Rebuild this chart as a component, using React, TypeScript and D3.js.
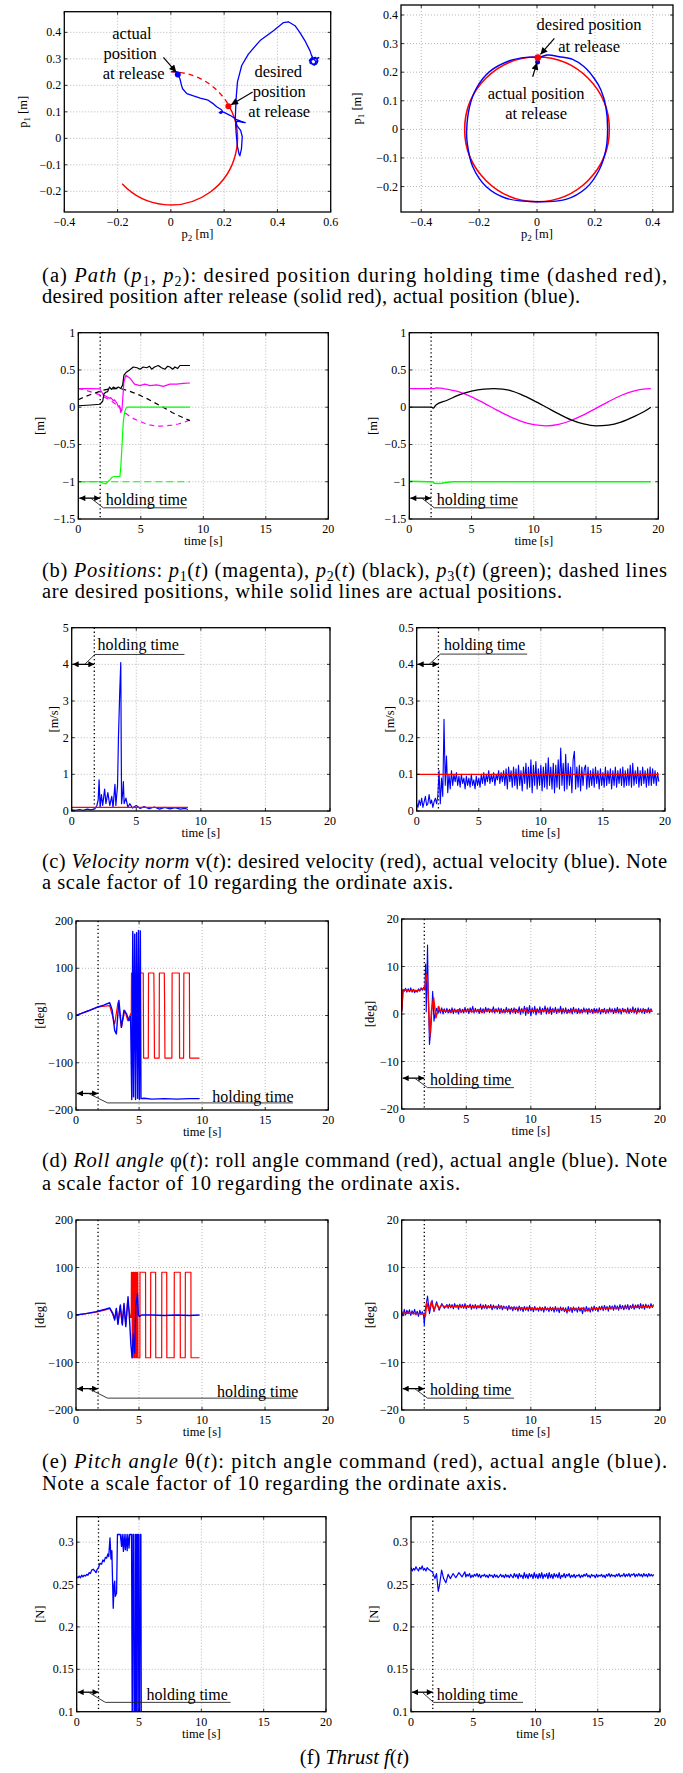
import React from "react";
import * as d3 from "d3";

const FONT = '"Liberation Serif", "Times New Roman", Times, serif';
const BLUE = "#0000ff";
const RED = "#ff0000";
const MAGENTA = "#ff00ff";
const GREEN = "#00ff00";
const BLACK = "#000000";

type Pt = [number, number];
const series = (t0: number, dt: number, vals: number[]): Pt[] => vals.map((v, i) => [t0 + i * dt, v]);

// ---------------- DATA ----------------
const HOLD_T = 1.75;

// (a) path
const circleR = 0.25;
const arcHoldStartDeg = 90;
const arcReleaseDeg = 29;
const arcEndDeg = -137;
const aLXTicks = [-0.4, -0.2, 0, 0.2, 0.4, 0.6];
const aLYTicks = [-0.2, -0.1, 0, 0.1, 0.2, 0.3, 0.4];
const aRXTicks = [-0.4, -0.2, 0, 0.2, 0.4];
const aRYTicks = [-0.2, -0.1, 0, 0.1, 0.2, 0.3, 0.4];
const aLXLim = [-0.4, 0.6];
const aLYLim = [-0.278, 0.478];
const aRXLim = [-0.47, 0.47];
const aRYLim = [-0.289, 0.435];

const aLBlue: Pt[] = [
  [0.004, 0.252], [0.018, 0.252], [0.03, 0.248], [0.026, 0.241], [0.034, 0.225], [0.04, 0.2], [0.044, 0.187],
  [0.06, 0.169], [0.085, 0.16], [0.11, 0.152], [0.14, 0.144], [0.16, 0.13], [0.172, 0.119], [0.19, 0.108],
  [0.195, 0.1], [0.188, 0.094], [0.182, 0.097], [0.188, 0.101], [0.2, 0.098], [0.222, 0.087], [0.247, 0.071],
  [0.265, 0.064], [0.279, 0.059], [0.27, 0.06], [0.25, 0.065], [0.243, 0.055], [0.245, 0.02], [0.25, -0.031],
  [0.256, -0.06], [0.259, -0.066], [0.265, -0.04], [0.268, 0.006], [0.262, 0.03], [0.25, 0.045], [0.244, 0.06],
  [0.242, 0.079], [0.245, 0.15], [0.25, 0.213], [0.266, 0.275], [0.291, 0.318], [0.335, 0.369], [0.385, 0.406],
  [0.423, 0.437], [0.441, 0.44], [0.466, 0.425], [0.484, 0.4], [0.503, 0.369], [0.522, 0.331], [0.528, 0.313],
  [0.535, 0.3], [0.545, 0.29], [0.54, 0.28], [0.525, 0.282], [0.52, 0.295], [0.53, 0.305], [0.548, 0.3],
  [0.55, 0.285], [0.538, 0.276], [0.522, 0.285], [0.527, 0.3], [0.542, 0.306], [0.552, 0.292], [0.545, 0.279],
  [0.53, 0.281], [0.525, 0.293], [0.535, 0.3], [0.555, 0.305], [0.548, 0.297],
];
const aLReleaseDesired: Pt = [0.216, 0.121];
const aLReleaseActual: Pt = [0.026, 0.241];

const aRBlue: Pt[] = [
  [0.002, 0.248], [0.037, 0.26], [0.077, 0.254], [0.123, 0.245], [0.163, 0.219], [0.198, 0.178], [0.221, 0.138],
  [0.238, 0.079], [0.244, 0.0], [0.238, -0.072], [0.215, -0.142], [0.169, -0.206], [0.1, -0.245], [0.0, -0.253],
  [-0.107, -0.241], [-0.176, -0.2], [-0.222, -0.131], [-0.241, -0.049], [-0.243, 0.0], [-0.233, 0.079],
  [-0.21, 0.143], [-0.164, 0.202], [-0.095, 0.24], [-0.038, 0.252], [0.002, 0.252],
];
const aRReleaseDesired: Pt = [0.003, 0.251];
const aRReleaseActual: Pt = [0.002, 0.236];

// time axes
const timeTicks = [0, 5, 10, 15, 20];
const bYTicks = [-1.5, -1, -0.5, 0, 0.5, 1];
const cLYTicks = [0, 1, 2, 3, 4, 5];
const cRYTicks = [0, 0.1, 0.2, 0.3, 0.4, 0.5];
const degLTicks = [-200, -100, 0, 100, 200];
const degRTicks = [-20, -10, 0, 10, 20];
const fYTicks = [0.1, 0.15, 0.2, 0.25, 0.3];

// (b) positions, left
const bL_p1Act: Pt[] = [
  [0, 0.25], [1.0, 0.25], [1.73, 0.245], [1.85, 0.21], [2.0, 0.165], [2.3, 0.14], [2.5, 0.12], [2.6, 0.13],
  [2.8, 0.09], [2.9, 0.1], [3.07, 0.06], [3.2, 0.01], [3.3, 0.02], [3.4, -0.07], [3.5, -0.02], [3.65, 0.34],
  [3.81, 0.43], [4.13, 0.39], [4.5, 0.31], [4.93, 0.29], [5.33, 0.31], [5.73, 0.29], [6.27, 0.3], [6.8, 0.28],
  [7.33, 0.31], [7.87, 0.31], [8.4, 0.32], [8.93, 0.325],
];
const bL_p1Des: Pt[] = [
  [0, 0.25], [0.5, 0.235], [0.93, 0.21], [1.3, 0.19], [1.73, 0.165], [2.1, 0.135], [2.53, 0.098], [3.0, 0.04],
  [3.33, -0.013], [3.7, -0.07], [4.13, -0.125], [4.5, -0.16], [4.93, -0.19], [5.3, -0.215], [5.73, -0.237],
  [6.13, -0.25], [6.53, -0.254], [7.0, -0.25], [7.5, -0.24], [8.0, -0.225], [8.5, -0.2], [8.93, -0.17],
];
const bL_p2Act: Pt[] = [
  [0, 0.02], [1.0, 0.03], [1.73, 0.04], [1.95, 0.08], [2.05, 0.18], [2.2, 0.2], [2.35, 0.21], [2.5, 0.27],
  [2.65, 0.24], [2.8, 0.27], [3.0, 0.25], [3.2, 0.27], [3.4, 0.25], [3.55, 0.3], [3.65, 0.43], [3.85, 0.47],
  [4.1, 0.5], [4.4, 0.54], [4.7, 0.53], [4.93, 0.51], [5.2, 0.54], [5.47, 0.53], [5.7, 0.55], [5.87, 0.51],
  [6.1, 0.54], [6.4, 0.56], [6.65, 0.53], [6.93, 0.51], [7.15, 0.55], [7.33, 0.54], [7.55, 0.51], [7.73, 0.54],
  [7.95, 0.52], [8.13, 0.56], [8.53, 0.56], [8.93, 0.56],
];
const bL_p2Des: Pt[] = [
  [0, 0.1], [0.5, 0.14], [1.0, 0.17], [1.5, 0.2], [2.0, 0.23], [2.5, 0.245], [3.0, 0.25], [3.5, 0.245],
  [4.0, 0.22], [4.5, 0.19], [5.0, 0.155], [5.5, 0.115], [6.0, 0.07], [6.5, 0.025], [7.0, -0.02], [7.5, -0.07],
  [8.0, -0.11], [8.5, -0.15], [8.93, -0.18],
];
const bL_p3Act: Pt[] = [
  [0, -1.0], [1.73, -1.0], [2.0, -1.02], [2.2, -1.03], [2.35, -1.0], [2.53, -0.975], [2.7, -0.94], [2.85, -0.93],
  [3.33, -0.93], [3.4, -0.8], [3.47, -0.59], [3.6, -0.19], [3.7, -0.07], [3.81, -0.013], [3.9, 0.0], [8.93, 0.0],
];
const bL_p3Des: Pt[] = [[0, -1], [8.93, -1]];

// (b) positions, right
const bR_p1: Pt[] = [
  [0, 0.25], [1.0, 0.25], [2.0, 0.25], [2.14, 0.258], [2.5, 0.255], [3, 0.242], [4, 0.205], [5, 0.14], [6, 0.055],
  [7, -0.035], [8, -0.12], [9, -0.19], [10, -0.235], [11, -0.25], [12, -0.23], [13, -0.178], [14, -0.103],
  [15, -0.015], [16, 0.075], [17, 0.157], [18, 0.217], [19, 0.247], [19.4, 0.25],
];
const bR_p2: Pt[] = [
  [0, 0.0], [1.0, 0.0], [1.8, 0.0], [1.93, -0.012], [2.05, 0.01], [2.14, 0.03], [3, 0.09], [4, 0.165], [5, 0.215],
  [6, 0.243], [6.8, 0.25], [7.5, 0.243], [8, 0.228], [9, 0.168], [10, 0.088], [11, 0.0], [12, -0.09], [13, -0.17],
  [14, -0.225], [15, -0.25], [16, -0.24], [17, -0.2], [18, -0.13], [19, -0.045], [19.4, 0.0],
];
const bR_p3: Pt[] = [
  [0, -0.995], [1.5, -1.0], [1.9, -1.0], [2.0, -1.02], [2.3, -1.025], [2.6, -1.02], [2.9, -1.01], [3.5, -1.0],
  [19.4, -1.0],
];

// (c) velocity
const cL_vAct: Pt[] = [
  [0, 0.03], [0.3, 0.02], [0.6, 0.04], [0.9, 0.02], [1.2, 0.05], [1.5, 0.03], [1.8, 0.06], [1.95, 0.15],
  [2.05, 0.3], [2.12, 0.85], [2.2, 0.1], [2.3, 0.45], [2.4, 0.15], [2.55, 0.6], [2.65, 0.2], [2.8, 0.5],
  [2.95, 0.15], [3.1, 0.4], [3.2, 0.1], [3.35, 0.73], [3.42, 0.15], [3.55, 0.7], [3.62, 2.0], [3.72, 3.25],
  [3.8, 4.05], [3.86, 0.2], [3.95, 0.5], [4.0, 0.8], [4.06, 0.2], [4.2, 0.35], [4.35, 0.1], [4.5, 0.2],
  [4.7, 0.08], [5.0, 0.15], [5.3, 0.07], [5.6, 0.12], [6.0, 0.06], [6.4, 0.11], [6.8, 0.05], [7.2, 0.1],
  [7.6, 0.06], [8.0, 0.09], [8.4, 0.05], [8.8, 0.07], [9.0, 0.04],
];
const cL_vDes: Pt[] = [[0, 0.1], [9.0, 0.1]];
const cR_vActValues = [
  0.02, 0.01, 0.03, 0.015, 0.035, 0.01, 0.025, 0.04, 0.015, 0.02, 0.045, 0.02, 0.03, 0.01, 0.025, 0.035, 0.02, 0.04,
  0.11, 0.02, 0.09, 0.04, 0.25, 0.07, 0.15, 0.05,
  0.10, 0.06, 0.11, 0.07, 0.10, 0.08, 0.105, 0.07, 0.095, 0.065, 0.10, 0.075, 0.09, 0.06, 0.095, 0.07, 0.09, 0.065,
  0.10, 0.07, 0.085, 0.06, 0.095, 0.07, 0.09, 0.065, 0.10, 0.075, 0.105, 0.07, 0.10, 0.08, 0.11, 0.075, 0.10, 0.08,
  0.105, 0.07, 0.10, 0.085, 0.11, 0.075, 0.105, 0.08,
  0.11, 0.07, 0.115, 0.06, 0.12, 0.08, 0.11, 0.065, 0.12, 0.07,
  0.115, 0.06, 0.125, 0.07, 0.11, 0.055, 0.12, 0.075, 0.13, 0.06,
  0.12, 0.065, 0.14, 0.05, 0.125, 0.07, 0.135, 0.06, 0.115, 0.07,
  0.125, 0.055, 0.12, 0.065, 0.13, 0.06, 0.145, 0.07, 0.12, 0.06,
  0.13, 0.05, 0.125, 0.065, 0.14, 0.06, 0.172, 0.07, 0.13, 0.055,
  0.155, 0.06, 0.13, 0.07, 0.12, 0.05, 0.14, 0.163, 0.06, 0.12,
  0.065, 0.125, 0.055, 0.12, 0.07, 0.115, 0.125, 0.06, 0.12, 0.065,
  0.11, 0.07, 0.115, 0.065, 0.12, 0.075, 0.11, 0.06, 0.115, 0.07,
  0.105, 0.065, 0.12, 0.07, 0.11, 0.075, 0.115, 0.06, 0.11, 0.07,
  0.12, 0.065, 0.11, 0.075, 0.115, 0.07, 0.12, 0.065, 0.11, 0.07,
  0.115, 0.07, 0.125, 0.065, 0.13, 0.07, 0.11, 0.075, 0.12, 0.065,
  0.11, 0.07, 0.12, 0.075, 0.11, 0.065, 0.115, 0.07, 0.12, 0.07,
  0.115, 0.075, 0.11, 0.07, 0.105, 0.08,
];
const cR_vDes: Pt[] = [[0, 0.1], [19.5, 0.1]];

// (d) roll
const dL_cmd: Pt[] = [
  [0, 0], [1.73, 18], [2.67, 21], [2.8, 8], [3.07, -18], [3.33, 28], [3.6, -25], [3.87, 11], [4.1, -11], [4.35, 4],
  [4.38, 0], [4.4, 90], [5.33, 90], [5.36, -90], [5.73, -90], [5.75, 90], [6.17, 90], [6.19, 35], [6.22, -90],
  [6.59, -90], [6.61, 90], [7.0, 90], [7.02, 37], [7.05, -90], [7.6, -90], [7.62, 90], [8.19, 90], [8.21, -90],
  [8.53, -90], [8.55, 90], [8.99, 90], [9.01, -90], [9.79, -90],
];
const dL_act: Pt[] = [
  [0, 0], [0.5, 5], [1.0, 10], [1.73, 18], [2.2, 22], [2.67, 27], [2.87, 11], [3.07, -32], [3.2, -39], [3.4, 32],
  [3.6, -25], [3.8, 11], [4.0, 4], [4.2, -11], [4.33, -2], [4.42, -178], [4.5, 178], [4.56, -172], [4.65, 172],
  [4.72, -178], [4.8, 175], [4.88, -175], [4.95, 180], [5.02, -178], [5.1, 179], [5.15, -176], [5.4, -175],
  [6, -177], [7, -176], [8, -177], [9, -176], [9.8, -176],
];
const dR_actHead: Pt[] = [
  [0, 0.5], [0.05, 2], [0.1, 5.2], [0.2, 4.8], [0.3, 5.4], [0.4, 4.6], [0.5, 5.3], [0.6, 4.7], [0.7, 5.5],
  [0.8, 4.6], [0.9, 5.2], [1.0, 4.5], [1.1, 5.0], [1.2, 4.6], [1.3, 5.3], [1.4, 4.8], [1.5, 5.5], [1.6, 5.0],
  [1.7, 5.6], [1.8, 5.2], [1.85, 10.5], [1.9, 0.5], [2.0, 14.5], [2.05, 5.5], [2.15, -6.4], [2.25, -3.6],
  [2.4, 4.8], [2.5, -1.5],
];
const dR_actTail = [
  0.3, 1.2, 0.1, 1.0, 0.2, 1.3, 0.0, 1.1, 0.3, 1.2,
  0.2, 1.0, 0.4, 1.3, 0.1, 1.1, 0.3, 0.9, 0.0, 1.2,
  0.3, 1.0, 0.2, 1.4, 0.4, 1.1, 0.1, 1.3, 0.5, 1.6,
  0.2, 1.2, 0.4, 1.0, 0.1, 1.3, 0.3, 1.1, 0.2, 1.4,
  0.5, 1.2, 0.3, 1.0, 0.6, 1.5, 0.2, 1.1, 0.4, 1.3,
  0.1, 1.2, 0.3, 1.0, 0.2, 1.4, 0.4, 1.1, 0.0, 1.2,
  0.3, 1.3, 0.1, 1.0, 0.4, 1.5, -0.1, 1.2, 0.2, 1.6,
  -0.3, 1.4, 0.1, 1.8, -0.4, 1.3, 0.2, 1.6, -0.2, 1.1,
  0.3, 1.5, -0.1, 1.2, 0.4, 1.7, 0.0, 1.3, 0.2, 1.5,
  -0.1, 1.2, 0.3, 1.4, 0.1, 1.1, 0.4, 1.6, 0.0, 1.2,
  0.2, 1.3, 0.1, 1.0, 0.4, 1.2, 0.0, 1.4, 0.3, 1.1,
  0.1, 1.2, 0.3, 1.0, 0.2, 1.3, 0.4, 1.1, 0.0, 1.2,
  0.3, 1.0, 0.1, 1.2, 0.4, 1.1, 0.2, 1.3, 0.0, 1.0,
  0.3, 1.2, 0.1, 1.0, 0.2, 1.3, 0.4, 1.1, 0.1, 1.2,
  0.3, 1.4, 0.2, 1.1, 0.0, 1.2, 0.4, 1.0, 0.2, 1.3,
  0.1, 1.1, 0.3, 1.5, 0.2, 1.2, 0.0, 1.3, 0.4, 1.1,
  0.2, 1.2, 0.1, 1.0, 0.3, 1.3, 0.2, 1.1, 0.4,
];
const dR_cmdHead: Pt[] = [
  [0, 0.6], [0.1, 5.0], [0.3, 5.1], [0.6, 4.9], [0.9, 5.0], [1.2, 4.9], [1.5, 5.2], [1.8, 5.4], [1.9, 8.3],
  [1.97, 7.9], [2.05, 4.0], [2.18, -4.7], [2.3, 0.5], [2.47, 3.4], [2.65, -0.8], [2.85, 1.6], [3.0, 0.6],
];
const dR_cmdTail = [
  0.9, 0.5, 0.7, 0.3, 0.8, 0.6, 0.9,
  0.4, 0.8, 0.5, 1.0, 0.4, 0.7, 0.6, 0.9, 0.3, 0.8,
  0.5, 1.0, 0.4, 0.8, 0.6, 0.9, 0.3, 0.7, 0.5, 0.9,
  0.4, 1.0, 0.3, 0.8, 0.6, 1.1, 0.2, 0.9, 0.5, 1.0,
  0.3, 0.8, 0.6, 1.0, 0.2, 0.9, 0.5, 0.8, 0.4, 1.0,
  0.5, 0.7, 0.3, 0.9, 0.6, 0.8, 0.2, 0.7, 0.5, 0.9,
  0.4, 0.8, 0.3, 0.7, 0.6, 0.9, 0.4, 0.8, 0.5, 0.7,
  0.3, 0.9, 0.6, 1.0, 0.4, 0.8, 0.5, 0.9, 0.3, 0.7,
  0.6, 0.9, 0.4, 0.8, 0.6,
];

// (e) pitch
const eL_cmd: Pt[] = [
  [0, 0], [1.6, 6], [2.4, 11], [2.67, 14], [2.9, 2], [3.07, -9], [3.2, 12], [3.33, -17], [3.5, 18], [3.65, -18],
  [3.8, 20], [3.95, -20], [4.1, 30], [4.3, -5], [4.38, -5], [4.4, 90], [4.45, 90], [4.47, -90], [4.52, -90],
  [4.54, 90], [4.6, 90], [4.62, -90], [4.67, -90], [4.69, 90], [4.75, 90], [4.77, -90], [4.82, -90], [4.84, 90],
  [4.9, 90], [4.92, -90], [5.07, -90], [5.08, 90], [5.52, 90], [5.53, -90], [5.92, -90], [5.93, 90], [6.32, 90],
  [6.33, -90], [6.8, -90], [6.81, 90], [7.2, 90], [7.21, -90], [7.79, -90], [7.8, 90], [8.27, 90], [8.28, -90],
  [8.67, -90], [8.68, 90], [9.12, 90], [9.13, -90], [9.8, -90],
];
const eL_act: Pt[] = [
  [0, 0], [0.8, 3], [1.6, 7], [2.4, 12.6], [2.67, 15], [2.93, 3.5], [3.07, -10.5], [3.2, 14], [3.33, -19.6],
  [3.52, 21], [3.68, -21], [3.81, 24.5], [3.95, -24.5], [4.13, 38.5], [4.25, -10], [4.35, -60], [4.45, -90],
  [4.55, -40], [4.65, -80], [4.75, 20], [4.88, 45], [4.95, 0], [5.05, -3], [5.2, 0], [6, 0], [7, -1], [8, 0],
  [9, -1], [9.8, 0],
];
const eR_actHead: Pt[] = [
  [0, 0.8], [0.1, -0.2], [0.2, 1.2], [0.3, 0.0], [0.4, 1.0], [0.5, 0.3], [0.6, 1.1], [0.7, -0.1], [0.8, 0.9],
  [0.9, 0.2], [1.0, 1.2], [1.1, 0.0], [1.2, 0.8], [1.3, -0.3], [1.4, 1.0], [1.5, 0.1], [1.6, 0.7], [1.7, -0.2],
  [1.75, -2.1], [1.82, 1.0], [2.0, 4.0], [2.15, 0.3], [2.35, 3.1], [2.5, 0.7], [2.7, 2.8], [2.9, 1.0],
  [3.1, 2.4], [3.3, 1.4], [3.5, 2.2],
];
const eR_actTail = [
  1.4, 2.3, 1.5, 2.2, 1.3, 2.4, 1.6, 2.1, 1.2, 2.3,
  1.5, 2.2, 1.4, 2.4, 1.3, 2.0, 1.6, 2.3, 1.2, 2.1,
  1.4, 2.2, 1.3, 2.0, 1.5, 2.3, 1.2, 2.1, 1.4, 2.2,
  1.3, 2.0, 1.5, 2.2, 1.1, 2.1, 1.4, 1.9, 1.2, 2.2,
  1.3, 2.0, 1.1, 1.9, 1.4, 1.8, 1.0, 2.0, 1.2, 1.7,
  0.9, 1.8, 1.1, 1.7, 0.8, 1.9, 1.0, 1.6, 0.7, 1.8,
  1.0, 1.7, 0.8, 2.0, 0.9, 1.6, 0.7, 1.8, 1.0, 1.5,
  0.8, 1.7, 0.9, 1.6, 0.6, 1.8, 1.0, 1.5, 0.7, 1.7,
  0.9, 1.6, 0.6, 1.8, 0.8, 1.5, 0.5, 1.7, 0.9, 1.6,
  0.7, 1.5, 0.4, 1.8, 0.8, 1.6, 0.5, 1.7, 0.9, 1.5,
  0.6, 1.7, 0.8, 1.5, 0.3, 1.6, 0.7, 1.8, 0.9, 1.5,
  0.6, 1.7, 0.8, 1.9, 1.0, 1.6, 0.7, 1.8, 1.1, 1.9,
  0.9, 2.0, 1.1, 1.8, 0.8, 2.0, 1.2, 1.9, 1.0, 2.1,
  1.2, 1.9, 1.0, 2.2, 1.3, 2.0, 1.1, 2.1, 1.3, 2.2,
  1.1, 2.0, 1.4, 2.3, 1.2, 2.1, 1.5, 2.2, 1.3, 2.4,
  1.4, 2.2, 1.2, 2.3, 1.5, 2.1, 1.4, 2.4, 1.6, 2.2,
];
const eR_cmd: Pt[] = [
  [0, 0.4], [0.5, 0.35], [1.0, 0.3], [1.5, 0.25], [1.75, 0.2], [1.82, -0.35], [1.95, 2.6], [2.1, 1.0], [2.3, 2.8],
  [2.5, 1.0], [2.7, 2.4], [2.9, 1.4], [3.1, 2.1], [3.35, 1.7], [3.6, 1.9], [4.0, 1.8], [4.4, 1.9], [4.8, 1.8],
  [5.2, 1.85], [5.6, 1.75], [6.0, 1.8], [6.4, 1.7], [6.8, 1.75], [7.2, 1.65], [7.6, 1.7], [8.0, 1.55], [8.4, 1.6],
  [8.8, 1.45], [9.2, 1.5], [9.6, 1.35], [10.0, 1.4], [10.4, 1.3], [10.8, 1.35], [11.2, 1.25], [11.6, 1.3],
  [12.0, 1.2], [12.4, 1.3], [12.8, 0.9], [13.2, 1.3], [13.6, 1.2], [14.0, 1.4], [14.4, 0.9], [14.8, 1.4],
  [15.2, 1.3], [15.6, 1.5], [16.0, 1.4], [16.4, 1.6], [16.8, 1.5], [17.2, 1.65], [17.6, 1.6], [18.0, 1.7],
  [18.4, 1.65], [18.8, 1.8], [19.2, 1.75], [19.5, 1.85],
];

// (f) thrust
const fL_act: Pt[] = [
  [0, 0.259], [0.1, 0.258], [0.2, 0.26], [0.3, 0.258], [0.4, 0.261], [0.5, 0.259], [0.6, 0.261], [0.7, 0.26],
  [0.8, 0.262], [0.9, 0.261], [1.0, 0.264], [1.1, 0.263], [1.2, 0.267], [1.33, 0.268], [1.45, 0.266],
  [1.55, 0.264], [1.65, 0.268], [1.75, 0.27], [1.87, 0.275], [2.0, 0.274], [2.1, 0.279], [2.2, 0.277],
  [2.3, 0.282], [2.4, 0.281], [2.5, 0.286], [2.57, 0.283], [2.67, 0.305], [2.75, 0.28], [2.82, 0.29],
  [2.93, 0.222], [3.0, 0.25], [3.05, 0.254], [3.1, 0.236], [3.2, 0.24], [3.27, 0.309], [3.5, 0.309],
  [3.6, 0.295], [3.65, 0.309], [3.75, 0.289], [3.8, 0.309], [3.9, 0.291], [3.95, 0.309], [4.05, 0.29],
  [4.1, 0.309], [4.2, 0.293], [4.25, 0.309], [4.4, 0.309], [4.45, 0.095], [4.48, 0.095], [4.52, 0.309],
  [4.58, 0.309], [4.62, 0.095], [4.7, 0.095], [4.72, 0.309], [4.78, 0.309], [4.8, 0.095], [4.85, 0.095],
  [4.88, 0.309], [4.95, 0.309], [4.98, 0.095], [5.05, 0.095], [5.08, 0.309], [5.15, 0.309], [5.18, 0.095],
  [5.25, 0.095],
];
const fR_actHead: Pt[] = [
  [0, 0.27], [0.1, 0.266], [0.2, 0.269], [0.3, 0.267], [0.4, 0.271], [0.5, 0.268], [0.6, 0.266], [0.7, 0.27],
  [0.8, 0.268], [0.9, 0.272], [1.0, 0.267], [1.1, 0.269], [1.2, 0.266], [1.3, 0.27], [1.4, 0.268], [1.5, 0.267],
  [1.6, 0.266], [1.7, 0.265], [1.8, 0.262], [1.92, 0.257], [2.05, 0.263], [2.19, 0.242], [2.3, 0.25],
  [2.46, 0.267], [2.62, 0.257], [2.8, 0.252], [2.98, 0.262], [3.17, 0.257], [3.38, 0.263], [3.6, 0.258],
  [3.85, 0.264], [4.1, 0.259], [4.33, 0.265],
];
const fR_actTail = [
  0.259, 0.262, 0.26, 0.263, 0.258, 0.261, 0.259, 0.262, 0.26, 0.263,
  0.259, 0.262, 0.258, 0.261, 0.26, 0.262, 0.259, 0.261, 0.258, 0.262,
  0.26, 0.261, 0.258, 0.262, 0.259, 0.261, 0.258, 0.26, 0.262, 0.259,
  0.261, 0.258, 0.262, 0.259, 0.261, 0.258, 0.262, 0.26, 0.258, 0.263,
  0.259, 0.262, 0.257, 0.263, 0.259, 0.261, 0.257, 0.264, 0.258, 0.262,
  0.257, 0.263, 0.259, 0.262, 0.257, 0.264, 0.258, 0.262, 0.257, 0.263,
  0.258, 0.264, 0.257, 0.262, 0.259, 0.263, 0.257, 0.264, 0.258, 0.262,
  0.257, 0.263, 0.259, 0.262, 0.258, 0.264, 0.257, 0.261, 0.259, 0.263,
  0.258, 0.262, 0.26, 0.263, 0.258, 0.261, 0.259, 0.262, 0.258, 0.261,
  0.26, 0.262, 0.258, 0.261, 0.259, 0.262, 0.26, 0.263, 0.259, 0.261,
  0.258, 0.262, 0.26, 0.261, 0.258, 0.262, 0.259, 0.261, 0.26, 0.262,
  0.259, 0.261, 0.258, 0.262, 0.26, 0.263, 0.259, 0.262, 0.26, 0.261,
  0.259, 0.262, 0.26, 0.263, 0.259, 0.261, 0.26, 0.263, 0.259, 0.262,
  0.26, 0.263, 0.259, 0.262, 0.261, 0.263, 0.259, 0.262, 0.26, 0.263,
  0.26, 0.262, 0.259, 0.263, 0.26, 0.262, 0.259, 0.263, 0.26, 0.262,
  0.26, 0.262,
];

// "holding time" annotations (data units of each panel)
type Hold = { arrowY: number; diagT: number; kneeT: number; lineY: number; endT: number; textT: number; textY: number };
const holdB: Hold = { arrowY: -1.22, diagT: 1.0, kneeT: 2.0, lineY: -1.35, endT: 8.7, textT: 2.2, textY: -1.24 };
const holdCL: Hold = { arrowY: 4.0, diagT: 1.0, kneeT: 1.8, lineY: 4.27, endT: 8.73, textT: 2.0, textY: 4.53 };
const holdCR: Hold = { arrowY: 0.4, diagT: 1.0, kneeT: 1.9, lineY: 0.428, endT: 8.9, textT: 2.2, textY: 0.453 };
const holdDL: Hold = { arrowY: -165, diagT: 1.0, kneeT: 2.5, lineY: -185, endT: 17.2, textT: 10.8, textY: -172 };
const holdDR: Hold = { arrowY: -13.5, diagT: 1.0, kneeT: 2.0, lineY: -15.5, endT: 8.7, textT: 2.2, textY: -13.8 };
const holdEL: Hold = { arrowY: -155, diagT: 1.0, kneeT: 2.5, lineY: -175, endT: 17.5, textT: 11.2, textY: -162 };
const holdER: Hold = { arrowY: -15.5, diagT: 1.0, kneeT: 2.0, lineY: -17.5, endT: 8.7, textT: 2.2, textY: -15.8 };
const holdFL: Hold = { arrowY: 0.123, diagT: 0.95, kneeT: 2.3, lineY: 0.111, endT: 12.35, textT: 5.6, textY: 0.1206 };
const holdFR: Hold = { arrowY: 0.123, diagT: 0.9, kneeT: 1.8, lineY: 0.111, endT: 9.0, textT: 2.06, textY: 0.1206 };

// ---------------- RENDERING ----------------
type Box = { l: number; t: number; r: number; b: number };
type Sc = d3.ScaleLinear<number, number>;

const fmt = (v: number) => String(+v.toFixed(4)).replace("-", "\u2212");

const TICK_FS = 12;
const LAB_FS = 12.5;

function Axes(props: {
  id: string;
  box: Box;
  xd: number[];
  yd: number[];
  xt: number[];
  yt: number[];
  xlab: React.ReactNode;
  ylab: React.ReactNode;
  ylabX: number;
  hold?: Hold;
  children: (x: Sc, y: Sc) => React.ReactNode;
  overlay?: (x: Sc, y: Sc) => React.ReactNode;
}) {
  const { id, box, xd, yd, xt, yt } = props;
  const x = d3.scaleLinear().domain(xd).range([box.l, box.r]);
  const y = d3.scaleLinear().domain(yd).range([box.b, box.t]);
  const eps = 0.5;
  const tk = 3;
  return (
    <g>
      <defs>
        <clipPath id={`clip-${id}`}>
          <rect x={box.l} y={box.t} width={box.r - box.l} height={box.b - box.t} />
        </clipPath>
      </defs>
      <g stroke="#9a9a9a" strokeWidth={0.7} strokeDasharray="1 2">
        {xt.filter((v) => Math.abs(x(v) - box.l) > eps && Math.abs(x(v) - box.r) > eps).map((v) => (
          <line key={`gx${v}`} x1={x(v)} x2={x(v)} y1={box.t} y2={box.b} />
        ))}
        {yt.filter((v) => Math.abs(y(v) - box.t) > eps && Math.abs(y(v) - box.b) > eps).map((v) => (
          <line key={`gy${v}`} y1={y(v)} y2={y(v)} x1={box.l} x2={box.r} />
        ))}
      </g>
      <g clipPath={`url(#clip-${id})`}>
        {props.hold && (
          <line x1={x(HOLD_T)} x2={x(HOLD_T)} y1={box.t} y2={box.b} stroke={BLACK} strokeWidth={1.3} strokeDasharray="1.3 2.6" />
        )}
        {props.children(x, y)}
      </g>
      {props.hold && <HoldingNote x={x} y={y} h={props.hold} />}
      {props.overlay && props.overlay(x, y)}
      <rect x={box.l} y={box.t} width={box.r - box.l} height={box.b - box.t} fill="none" stroke={BLACK} strokeWidth={1.3} />
      <g stroke={BLACK} strokeWidth={0.8}>
        {xt.map((v) => (
          <g key={`tx${v}`}>
            <line x1={x(v)} x2={x(v)} y1={box.b} y2={box.b - tk} />
            <line x1={x(v)} x2={x(v)} y1={box.t} y2={box.t + tk} />
          </g>
        ))}
        {yt.map((v) => (
          <g key={`ty${v}`}>
            <line y1={y(v)} y2={y(v)} x1={box.l} x2={box.l + tk} />
            <line y1={y(v)} y2={y(v)} x1={box.r} x2={box.r - tk} />
          </g>
        ))}
      </g>
      {xt.map((v) => (
        <text key={`lx${v}`} x={x(v)} y={box.b + 14} textAnchor="middle" fontSize={TICK_FS} fontFamily={FONT}>{fmt(v)}</text>
      ))}
      {yt.map((v) => (
        <text key={`ly${v}`} x={box.l - 3} y={y(v) + 4} textAnchor="end" fontSize={TICK_FS} fontFamily={FONT}>{fmt(v)}</text>
      ))}
      <text x={(box.l + box.r) / 2} y={box.b + 26} textAnchor="middle" fontSize={LAB_FS} fontFamily={FONT}>{props.xlab}</text>
      <text transform={`translate(${props.ylabX},${(box.t + box.b) / 2}) rotate(-90)`} textAnchor="middle" dy="0.35em"
        fontSize={LAB_FS} fontFamily={FONT}>
        {props.ylab}
      </text>
    </g>
  );
}

function HoldingNote({ x, y, h }: { x: Sc; y: Sc; h: Hold }) {
  return (
    <g>
      <line x1={x(0) + 1} x2={x(HOLD_T)} y1={y(h.arrowY)} y2={y(h.arrowY)} stroke={BLACK} strokeWidth={1.3}
        markerStart="url(#dblhead)" markerEnd="url(#dblhead)" />
      <polyline points={`${x(h.diagT)},${y(h.arrowY)} ${x(h.kneeT)},${y(h.lineY)} ${x(h.endT)},${y(h.lineY)}`}
        fill="none" stroke="#222" strokeWidth={0.9} />
      <text x={x(h.textT)} y={y(h.textY)} dy="0.33em" fontSize={16} fontFamily={FONT}>holding time</text>
    </g>
  );
}

function Line({ data, x, y, color, dash, w = 1.2, curve }: { data: Pt[]; x: Sc; y: Sc; color: string; dash?: string; w?: number; curve?: d3.CurveFactory }) {
  const gen = d3.line<Pt>().x((d) => x(d[0])).y((d) => y(d[1]));
  if (curve) gen.curve(curve);
  return <path d={gen(data) || ""} fill="none" stroke={color} strokeWidth={w} strokeDasharray={dash} strokeLinejoin="round" />;
}

const PLab = ({ n }: { n: string }) => (
  <>
    <tspan fontSize={LAB_FS}>p</tspan>
    <tspan fontSize={9} dy={3}>{n}</tspan>
    <tspan fontSize={LAB_FS} dy={-3}> [m]</tspan>
  </>
);

const L = {
  aL: { l: 64.3, t: 11.7, r: 330.7, b: 212 },
  aR: { l: 401, t: 5, r: 673, b: 212 },
  bL: { l: 78.3, t: 332.7, r: 328.3, b: 519 },
  bR: { l: 409.3, t: 332.7, r: 658.3, b: 519 },
  cL: { l: 71.7, t: 627.7, r: 330, b: 811 },
  cR: { l: 416.7, t: 627.7, r: 665, b: 811 },
  dL: { l: 76, t: 921, r: 328.3, b: 1110 },
  dR: { l: 401.7, t: 919, r: 660, b: 1109 },
  eL: { l: 76, t: 1220, r: 328, b: 1410 },
  eR: { l: 401.7, t: 1220, r: 660, b: 1410 },
  fL: { l: 76.7, t: 1516.7, r: 326, b: 1711.7 },
  fR: { l: 411, t: 1516.7, r: 660, b: 1711.7 },
};

const deg = (a: number) => (a * Math.PI) / 180;

function arcPath(x: Sc, y: Sc, r: number, fromDeg: number, toDeg: number) {
  const p = d3.path();
  const rp = x(r) - x(0);
  const a0 = deg(-fromDeg);
  const a1 = deg(-toDeg);
  p.moveTo(x(0) + rp * Math.cos(a0), y(0) + rp * Math.sin(a0));
  p.arc(x(0), y(0), rp, a0, a1, false);
  return p.toString();
}

function Note({ lines, pos, x, y, size = 16.5 }: { lines: string[]; pos: Pt[]; x: Sc; y: Sc; size?: number }) {
  return (
    <g>
      {lines.map((s, i) => (
        <text key={i} x={x(pos[i][0])} y={y(pos[i][1])} dy="0.33em" fontSize={size} fontFamily={FONT} textAnchor="middle">{s}</text>
      ))}
    </g>
  );
}

function Arrow({ from, to, x, y }: { from: Pt; to: Pt; x: Sc; y: Sc }) {
  return <line x1={x(from[0])} y1={y(from[1])} x2={x(to[0])} y2={y(to[1])} stroke={BLACK} strokeWidth={1.2} markerEnd="url(#annhead)" />;
}

const CAP = 20.5;
const I = ({ children }: { children: React.ReactNode }) => <tspan fontStyle="italic" fontSize={CAP}>{children}</tspan>;
const N = ({ children }: { children: React.ReactNode }) => <tspan fontSize={CAP}>{children}</tspan>;
// italic p with subscript, followed by text restored to baseline
const PS = ({ n, after }: { n: string; after: React.ReactNode }) => (
  <>
    <tspan fontStyle="italic" fontSize={CAP}>p</tspan>
    <tspan fontSize={14} dy={4}>{n}</tspan>
    <tspan fontSize={CAP} dy={-4}>{after}</tspan>
  </>
);

function CapLine({ y, x0 = 42, w, children, anchor }: { y: number; x0?: number; w?: number; children: React.ReactNode; anchor?: string }) {
  return (
    <text x={x0} y={y + 6.5} fontSize={CAP} fontFamily={FONT} textLength={w} lengthAdjust={w ? "spacing" : undefined}
      textAnchor={anchor} xmlSpace="preserve">
      {children}
    </text>
  );
}

export default function App() {
  return (
    <svg width={683} height={1773} style={{ position: "absolute", left: 0, top: 0, background: "#fff" }}>
      <defs>
        <marker id="dblhead" viewBox="0 0 10 10" refX={10} refY={5} markerWidth={7} markerHeight={6}
          markerUnits="userSpaceOnUse" orient="auto-start-reverse">
          <path d="M0,0 L10,5 L0,10 z" fill={BLACK} />
        </marker>
        <marker id="annhead" viewBox="0 0 10 10" refX={10} refY={5} markerWidth={10} markerHeight={7}
          markerUnits="userSpaceOnUse" orient="auto">
          <path d="M0,0 L10,5 L0,10 z" fill={BLACK} />
        </marker>
      </defs>
      <rect width={683} height={1773} fill="#fff" />

      {/* (a) left */}
      <Axes id="aL" box={L.aL} xd={aLXLim} yd={aLYLim} xt={aLXTicks} yt={aLYTicks}
        xlab={<PLab n="2" />} ylab={<PLab n="1" />} ylabX={23}
        overlay={(x, y) => (
          <g>
            <Note lines={["actual", "position", "at release"]} pos={[[-0.146, 0.394], [-0.153, 0.319], [-0.14, 0.246]]} x={x} y={y} />
            <Arrow from={[-0.028, 0.306]} to={[0.02, 0.25]} x={x} y={y} />
            <Note lines={["desired", "position", "at release"]} pos={[[0.403, 0.252], [0.407, 0.175], [0.407, 0.1]]} x={x} y={y} />
            <Arrow from={[0.307, 0.175]} to={[0.226, 0.127]} x={x} y={y} />
          </g>
        )}>
        {(x, y) => (
          <g>
            <path d={arcPath(x, y, circleR, arcHoldStartDeg, arcReleaseDeg)} fill="none" stroke={RED} strokeWidth={1.4} strokeDasharray="5 4" />
            <path d={arcPath(x, y, circleR, arcReleaseDeg, arcEndDeg)} fill="none" stroke={RED} strokeWidth={1.4} />
            <Line data={aLBlue} x={x} y={y} color={BLUE} w={1.3} />
            <circle cx={x(aLReleaseActual[0])} cy={y(aLReleaseActual[1])} r={3} fill={BLUE} />
            <circle cx={x(aLReleaseDesired[0])} cy={y(aLReleaseDesired[1])} r={3} fill={RED} />
          </g>
        )}
      </Axes>

      {/* (a) right */}
      <Axes id="aR" box={L.aR} xd={aRXLim} yd={aRYLim} xt={aRXTicks} yt={aRYTicks}
        xlab={<PLab n="2" />} ylab={<PLab n="1" />} ylabX={356.7}
        overlay={(x, y) => (
          <g>
            <Note lines={["desired position", "at release"]} pos={[[0.18, 0.365], [0.18, 0.291]]} x={x} y={y} />
            <Arrow from={[0.06, 0.318]} to={[0.012, 0.262]} x={x} y={y} />
            <Note lines={["actual position", "at release"]} pos={[[-0.003, 0.126], [-0.003, 0.056]]} x={x} y={y} />
            <Arrow from={[-0.015, 0.184]} to={[0.0, 0.233]} x={x} y={y} />
          </g>
        )}>
        {(x, y) => (
          <g>
            <circle cx={x(0)} cy={y(0)} r={x(circleR) - x(0)} fill="none" stroke={RED} strokeWidth={1.6} />
            <Line data={aRBlue} x={x} y={y} color={BLUE} w={1.4} curve={d3.curveCatmullRom} />
            <circle cx={x(aRReleaseActual[0])} cy={y(aRReleaseActual[1])} r={2.5} fill={BLUE} />
            <circle cx={x(aRReleaseDesired[0])} cy={y(aRReleaseDesired[1])} r={3.3} fill={RED} />
          </g>
        )}
      </Axes>

      {/* (b) */}
      <Axes id="bL" box={L.bL} xd={[0, 20]} yd={[-1.5, 1]} xt={timeTicks} yt={bYTicks} xlab="time [s]" ylab="[m]" ylabX={39.3} hold={holdB}>
        {(x, y) => (
          <g>
            <Line data={bL_p1Des} x={x} y={y} color={MAGENTA} dash="5 4" />
            <Line data={bL_p2Des} x={x} y={y} color={BLACK} dash="5 4" />
            <Line data={bL_p3Des} x={x} y={y} color={GREEN} dash="7 4" />
            <Line data={bL_p1Act} x={x} y={y} color={MAGENTA} />
            <Line data={bL_p2Act} x={x} y={y} color={BLACK} />
            <Line data={bL_p3Act} x={x} y={y} color={GREEN} />
          </g>
        )}
      </Axes>
      <Axes id="bR" box={L.bR} xd={[0, 20]} yd={[-1.5, 1]} xt={timeTicks} yt={bYTicks} xlab="time [s]" ylab="[m]" ylabX={372.7} hold={holdB}>
        {(x, y) => (
          <g>
            <Line data={bR_p1} x={x} y={y} color={MAGENTA} w={1.3} curve={d3.curveMonotoneX} />
            <Line data={bR_p2} x={x} y={y} color={BLACK} w={1.3} curve={d3.curveMonotoneX} />
            <Line data={bR_p3} x={x} y={y} color={GREEN} w={1.5} />
          </g>
        )}
      </Axes>

      {/* (c) */}
      <Axes id="cL" box={L.cL} xd={[0, 20]} yd={[0, 5]} xt={timeTicks} yt={cLYTicks} xlab="time [s]" ylab="[m/s]" ylabX={53.3} hold={holdCL}>
        {(x, y) => (
          <g>
            <Line data={cL_vAct} x={x} y={y} color={BLUE} />
            <Line data={cL_vDes} x={x} y={y} color={RED} />
          </g>
        )}
      </Axes>
      <Axes id="cR" box={L.cR} xd={[0, 20]} yd={[0, 0.5]} xt={timeTicks} yt={cRYTicks} xlab="time [s]" ylab="[m/s]" ylabX={390} hold={holdCR}>
        {(x, y) => (
          <g>
            <Line data={series(0, 0.1, cR_vActValues)} x={x} y={y} color={BLUE} w={1.1} />
            <Line data={cR_vDes} x={x} y={y} color={RED} w={1.3} />
          </g>
        )}
      </Axes>

      {/* (d) */}
      <Axes id="dL" box={L.dL} xd={[0, 20]} yd={[-200, 200]} xt={timeTicks} yt={degLTicks} xlab="time [s]" ylab="[deg]" ylabX={39.3} hold={holdDL}>
        {(x, y) => (
          <g>
            <Line data={dL_cmd} x={x} y={y} color={RED} />
            <Line data={dL_act} x={x} y={y} color={BLUE} w={1.4} />
          </g>
        )}
      </Axes>
      <Axes id="dR" box={L.dR} xd={[0, 20]} yd={[-20, 20]} xt={timeTicks} yt={degRTicks} xlab="time [s]" ylab="[deg]" ylabX={369.3} hold={holdDR}>
        {(x, y) => (
          <g>
            <Line data={[...dR_actHead, ...series(2.6, 0.1, dR_actTail)]} x={x} y={y} color={BLUE} w={1.1} />
            <Line data={[...dR_cmdHead, ...series(3.2, 0.2, dR_cmdTail)]} x={x} y={y} color={RED} w={1.5} />
          </g>
        )}
      </Axes>

      {/* (e) */}
      <Axes id="eL" box={L.eL} xd={[0, 20]} yd={[-200, 200]} xt={timeTicks} yt={degLTicks} xlab="time [s]" ylab="[deg]" ylabX={39.3} hold={holdEL}>
        {(x, y) => (
          <g>
            <Line data={eL_cmd} x={x} y={y} color={RED} />
            <Line data={eL_act} x={x} y={y} color={BLUE} w={1.4} />
          </g>
        )}
      </Axes>
      <Axes id="eR" box={L.eR} xd={[0, 20]} yd={[-20, 20]} xt={timeTicks} yt={degRTicks} xlab="time [s]" ylab="[deg]" ylabX={369.3} hold={holdER}>
        {(x, y) => (
          <g>
            <Line data={[...eR_actHead, ...series(3.6, 0.1, eR_actTail)]} x={x} y={y} color={BLUE} w={1.1} />
            <Line data={eR_cmd} x={x} y={y} color={RED} w={1.5} />
          </g>
        )}
      </Axes>

      {/* (f) */}
      <Axes id="fL" box={L.fL} xd={[0, 20]} yd={[0.1, 0.33]} xt={timeTicks} yt={fYTicks} xlab="time [s]" ylab="[N]" ylabX={40} hold={holdFL}>
        {(x, y) => <Line data={fL_act} x={x} y={y} color={BLUE} w={1.3} />}
      </Axes>
      <Axes id="fR" box={L.fR} xd={[0, 20]} yd={[0.1, 0.33]} xt={timeTicks} yt={fYTicks} xlab="time [s]" ylab="[N]" ylabX={373.3} hold={holdFR}>
        {(x, y) => <Line data={[...fR_actHead, ...series(4.4, 0.1, fR_actTail)]} x={x} y={y} color={BLUE} w={1.2} />}
      </Axes>

      {/* captions */}
      <g fill={BLACK}>
        <CapLine y={275} w={625}>
          <N>(a) </N><I>Path</I><N> (</N><PS n="1" after=", " /><PS n="2" after="): desired position during holding time (dashed red)," />
        </CapLine>
        <CapLine y={296.7} w={538}>desired position after release (solid red), actual position (blue).</CapLine>

        <CapLine y={570} w={625}>
          <N>(b) </N><I>Positions</I><N>: </N>
          <PS n="1" after="(" /><I>t</I><N>) (magenta), </N>
          <PS n="2" after="(" /><I>t</I><N>) (black), </N>
          <PS n="3" after="(" /><I>t</I><N>) (green); dashed lines</N>
        </CapLine>
        <CapLine y={591.7} w={520}>are desired positions, while solid lines are actual positions.</CapLine>

        <CapLine y={861.7} w={625}>
          <N>(c) </N><I>Velocity norm</I><N> v(</N><I>t</I><N>): desired velocity (red), actual velocity (blue). Note</N>
        </CapLine>
        <CapLine y={882.3} w={411}>a scale factor of 10 regarding the ordinate axis.</CapLine>

        <CapLine y={1160} w={625}>
          <N>(d) </N><I>Roll angle</I><N> φ(</N><I>t</I><N>): roll angle command (red), actual angle (blue). Note</N>
        </CapLine>
        <CapLine y={1183.3} w={418}>a scale factor of 10 regarding the ordinate axis.</CapLine>

        <CapLine y={1461.7} w={625}>
          <N>(e) </N><I>Pitch angle</I><N> θ(</N><I>t</I><N>): pitch angle command (red), actual angle (blue).</N>
        </CapLine>
        <CapLine y={1483.3} w={465}>Note a scale factor of 10 regarding the ordinate axis.</CapLine>

        <CapLine y={1757} x0={354.5} anchor="middle">
          <N>(f) </N><I>Thrust f</I><N>(</N><I>t</I><N>)</N>
        </CapLine>
      </g>
    </svg>
  );
}
